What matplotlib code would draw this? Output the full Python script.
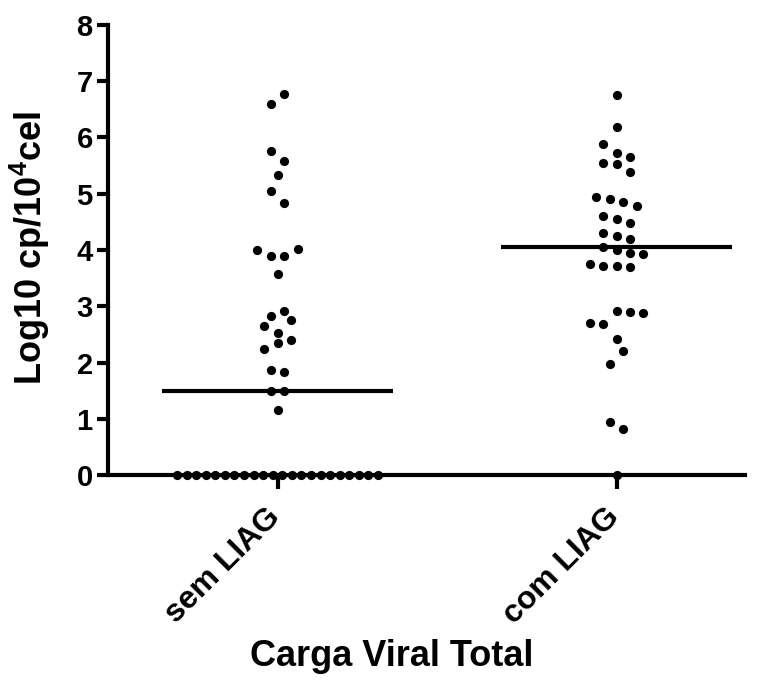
import numpy as np
import matplotlib
matplotlib.use("Agg")
import matplotlib.pyplot as plt
import matplotlib.transforms as mtransforms

plt.rcParams['font.family'] = ['Liberation Sans', 'DejaVu Sans']
plt.rcParams['font.weight'] = 'bold'
plt.rcParams['mathtext.fontset'] = 'custom'
plt.rcParams['mathtext.bf'] = 'Liberation Sans:bold'
plt.rcParams['mathtext.rm'] = 'Liberation Sans:bold'
plt.rcParams['mathtext.default'] = 'bf'

groups = ["sem LIAG", "com LIAG"]

# log10 viral load per group (listed in acquisition order)
sem_liag = [0.0] * 22 + [1.16, 1.49, 1.49, 1.87, 1.83,
                         2.24, 2.35, 2.40, 2.65, 2.53, 2.76, 2.83, 2.92,
                         3.58, 4.00, 3.90, 3.90, 4.02,
                         5.05, 4.84, 5.33, 5.76, 5.58, 6.60, 6.78]
com_liag = [0.0, 0.95, 0.82, 1.98, 2.20, 2.42, 2.70, 2.68,
            2.92, 2.90, 2.88, 3.75, 3.72, 3.72, 3.70,
            4.06, 4.00, 3.95, 3.92, 4.30, 4.25, 4.20,
            4.60, 4.55, 4.48, 4.95, 4.90, 4.85, 4.78,
            5.55, 5.52, 5.38, 5.88, 5.72, 5.65, 6.18, 6.75]

yticks = np.arange(0, 9, 1)

W, H = 779, 686
fig = plt.figure(figsize=(W / 100, H / 100), dpi=100)
ax_l, ax_b, ax_t = 108, 475, 25
xmin, xmax = -0.5, 1.38
px_per_x = 339
ax_w = (xmax - xmin) * px_per_x
ax = fig.add_axes([ax_l / W, (H - ax_b) / H, ax_w / W, (ax_b - ax_t) / H])
ax.set_xlim(xmin, xmax)
ax.set_ylim(0, 8)

row_h = 0.25      # values closer than this share a row
pitch = 13.5 / px_per_x   # horizontal spacing between dots in a row
max_w = 201 / px_per_x    # widest a row may get


def column_offsets(vals):
    vals = np.asarray(vals, dtype=float)
    order = np.argsort(vals, kind="stable")
    offs = np.zeros(len(vals))
    rows, cur, start = [], [], None
    for i in order:
        if start is None or vals[i] >= start + row_h:
            if cur:
                rows.append(cur)
            cur, start = [], vals[i]
        cur.append(i)
    rows.append(cur)
    for r in rows:
        r = sorted(r)
        n = len(r)
        step = pitch if (n - 1) * pitch <= max_w else max_w / (n - 1)
        offs[r] = (np.arange(n) - (n - 1) / 2) * step
    return offs


for k, vals in enumerate([sem_liag, com_liag]):
    xs = k + column_offsets(vals)
    ax.scatter(xs, vals, s=44, color='black', zorder=3, clip_on=False,
               linewidths=0)
    med = np.median(vals)
    ax.plot([k - 0.34, k + 0.34], [med, med], color='black', lw=3,
            solid_capstyle='butt', zorder=4)

for side in ['top', 'right']:
    ax.spines[side].set_visible(False)
for side in ['left', 'bottom']:
    ax.spines[side].set_linewidth(3)

ax.set_yticks(yticks)
ax.set_yticklabels([str(t) for t in yticks], fontsize=21, fontweight='bold')
ax.set_xticks(range(len(groups)))
ax.tick_params(axis='y', length=8, width=3, pad=3)
ax.tick_params(axis='x', length=10, width=3, pad=4)
ax.set_xticklabels(groups, fontsize=23, fontweight='bold', rotation=45,
                   ha='right', rotation_mode='anchor')
# nudge the slanted group names down and to the left
shift = mtransforms.ScaledTranslation(-0.12, -0.08, fig.dpi_scale_trans)
for lab in ax.get_xticklabels():
    lab.set_transform(lab.get_transform() + shift)

ax.set_ylabel(r'Log10 cp/10$^{4}$cel', fontsize=26, fontweight='bold')
ax.yaxis.set_label_coords((52 - ax_l) / ax_w, 0.505)
ax.set_xlabel('Carga Viral Total', fontsize=26, fontweight='bold')
ax.xaxis.set_label_coords((392 - ax_l) / ax_w, -0.365)

fig.savefig("out.png", dpi=100)
